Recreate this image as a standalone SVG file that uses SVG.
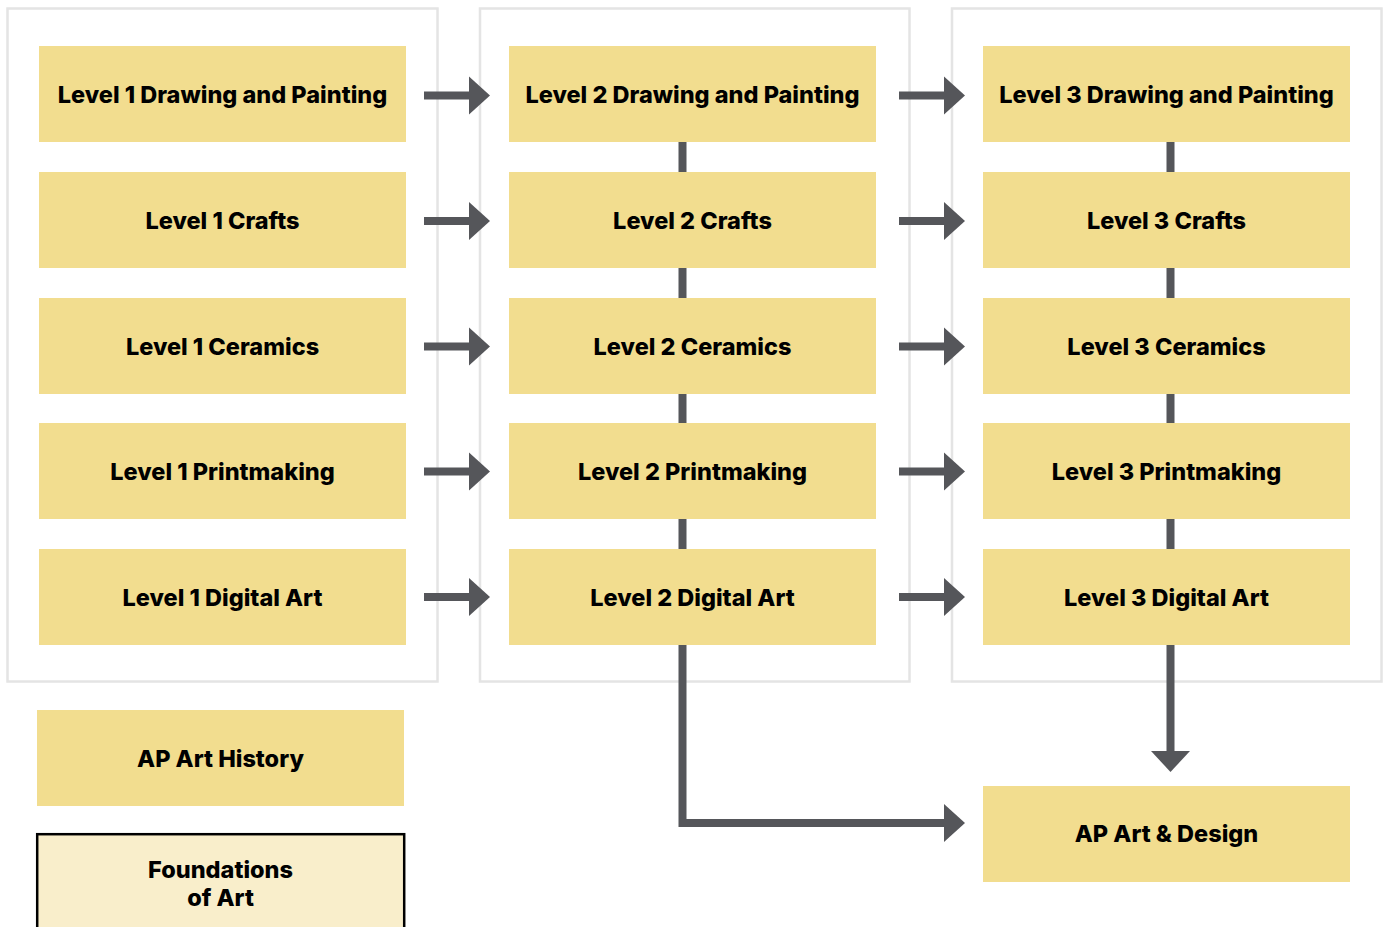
<svg xmlns="http://www.w3.org/2000/svg" width="1384" height="927" viewBox="0 0 1384 927">
  <style>
    .panel { fill: #ffffff; stroke: #e4e4e4; stroke-width: 2.5; }
    .course { fill: #f2dd8f; }
    .found { fill: #f9eecb; stroke: #000000; stroke-width: 2.5; }
    .label { font-family: Inter, "Liberation Sans", sans-serif; font-weight: 800; font-size: 23.5px; fill: #000000; text-anchor: middle; }
    .wire { stroke: #55565a; stroke-width: 8; fill: none; }
    .head { fill: #55565a; }
  </style>

  <!-- level panels -->
  <g id="panels">
    <rect class="panel" x="7.5" y="8.5" width="430" height="673"/>
    <rect class="panel" x="480" y="8.5" width="429.5" height="673"/>
    <rect class="panel" x="952" y="8.5" width="429.5" height="673"/>
  </g>

  <!-- connectors -->
  <g id="connectors">
    <!-- vertical links inside level 2 and level 3 -->
    <line class="wire" x1="682.5" y1="141" x2="682.5" y2="550"/>
    <line class="wire" x1="1170.5" y1="141" x2="1170.5" y2="550"/>

    <!-- level 1 to level 2 -->
    <g id="arrows-1-2">
      <line class="wire" x1="424" y1="95.5" x2="471" y2="95.5"/>
      <polygon class="head" points="469,76.5 490,95.5 469,114.5"/>
      <line class="wire" x1="424" y1="221" x2="471" y2="221"/>
      <polygon class="head" points="469,202 490,221 469,240"/>
      <line class="wire" x1="424" y1="346.5" x2="471" y2="346.5"/>
      <polygon class="head" points="469,327.5 490,346.5 469,365.5"/>
      <line class="wire" x1="424" y1="471.5" x2="471" y2="471.5"/>
      <polygon class="head" points="469,452.5 490,471.5 469,490.5"/>
      <line class="wire" x1="424" y1="597" x2="471" y2="597"/>
      <polygon class="head" points="469,578 490,597 469,616"/>
    </g>

    <!-- level 2 to level 3 -->
    <g id="arrows-2-3">
      <line class="wire" x1="899" y1="95.5" x2="946" y2="95.5"/>
      <polygon class="head" points="944,76.5 965,95.5 944,114.5"/>
      <line class="wire" x1="899" y1="221" x2="946" y2="221"/>
      <polygon class="head" points="944,202 965,221 944,240"/>
      <line class="wire" x1="899" y1="346.5" x2="946" y2="346.5"/>
      <polygon class="head" points="944,327.5 965,346.5 944,365.5"/>
      <line class="wire" x1="899" y1="471.5" x2="946" y2="471.5"/>
      <polygon class="head" points="944,452.5 965,471.5 944,490.5"/>
      <line class="wire" x1="899" y1="597" x2="946" y2="597"/>
      <polygon class="head" points="944,578 965,597 944,616"/>
    </g>

    <!-- routes into AP Art & Design -->
    <polyline class="wire" points="682.5,644 682.5,823 946,823"/>
    <polygon class="head" points="944,804 965,823 944,842"/>
    <line class="wire" x1="1170.5" y1="644" x2="1170.5" y2="753"/>
    <polygon class="head" points="1151,751 1170.5,772 1190,751"/>
  </g>

  <!-- level 1 courses -->
  <g id="l1-drawing"><rect class="course" x="39" y="46" width="367" height="96"/><text class="label" x="222.5" y="103">Level 1 Drawing and Painting</text></g>
  <g id="l1-crafts"><rect class="course" x="39" y="172" width="367" height="96"/><text class="label" x="222.5" y="229">Level 1 Crafts</text></g>
  <g id="l1-ceramics"><rect class="course" x="39" y="298" width="367" height="96"/><text class="label" x="222.5" y="355">Level 1 Ceramics</text></g>
  <g id="l1-printmaking"><rect class="course" x="39" y="423" width="367" height="96"/><text class="label" x="222.5" y="480">Level 1 Printmaking</text></g>
  <g id="l1-digital"><rect class="course" x="39" y="549" width="367" height="96"/><text class="label" x="222.5" y="606">Level 1 Digital Art</text></g>

  <!-- level 2 courses -->
  <g id="l2-drawing"><rect class="course" x="509" y="46" width="367" height="96"/><text class="label" x="692.5" y="103">Level 2 Drawing and Painting</text></g>
  <g id="l2-crafts"><rect class="course" x="509" y="172" width="367" height="96"/><text class="label" x="692.5" y="229">Level 2 Crafts</text></g>
  <g id="l2-ceramics"><rect class="course" x="509" y="298" width="367" height="96"/><text class="label" x="692.5" y="355">Level 2 Ceramics</text></g>
  <g id="l2-printmaking"><rect class="course" x="509" y="423" width="367" height="96"/><text class="label" x="692.5" y="480">Level 2 Printmaking</text></g>
  <g id="l2-digital"><rect class="course" x="509" y="549" width="367" height="96"/><text class="label" x="692.5" y="606">Level 2 Digital Art</text></g>

  <!-- level 3 courses -->
  <g id="l3-drawing"><rect class="course" x="983" y="46" width="367" height="96"/><text class="label" x="1166.5" y="103">Level 3 Drawing and Painting</text></g>
  <g id="l3-crafts"><rect class="course" x="983" y="172" width="367" height="96"/><text class="label" x="1166.5" y="229">Level 3 Crafts</text></g>
  <g id="l3-ceramics"><rect class="course" x="983" y="298" width="367" height="96"/><text class="label" x="1166.5" y="355">Level 3 Ceramics</text></g>
  <g id="l3-printmaking"><rect class="course" x="983" y="423" width="367" height="96"/><text class="label" x="1166.5" y="480">Level 3 Printmaking</text></g>
  <g id="l3-digital"><rect class="course" x="983" y="549" width="367" height="96"/><text class="label" x="1166.5" y="606">Level 3 Digital Art</text></g>

  <!-- standalone and capstone courses -->
  <g id="ap-art-history"><rect class="course" x="37" y="710" width="367" height="96"/><text class="label" x="220.5" y="767">AP Art History</text></g>
  <g id="foundations"><rect class="found" x="37.2" y="834.2" width="367" height="110"/><text class="label" x="220.5" y="878">Foundations</text><text class="label" x="220.5" y="906">of Art</text></g>
  <g id="ap-art-design"><rect class="course" x="983" y="786" width="367" height="96"/><text class="label" x="1166.5" y="842">AP Art &amp; Design</text></g>
</svg>
